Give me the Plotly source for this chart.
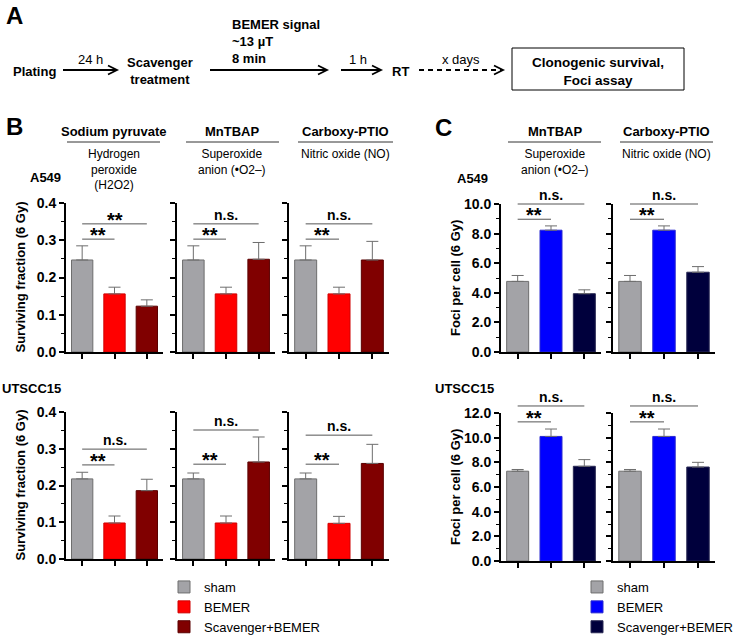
import plotly.graph_objects as go

W, H = 733, 636
FONT = "Liberation Sans, Arial, sans-serif"

groups = ["sham", "BEMER", "Scavenger+BEMER"]
scavengers_b = ["Sodium pyruvate", "MnTBAP", "Carboxy-PTIO"]
targets_b = ["Hydrogen<br>peroxide<br>(H2O2)", "Superoxide<br>anion (•O2–)", "Nitric oxide (NO)"]
scavengers_c = ["MnTBAP", "Carboxy-PTIO"]
targets_c = ["Superoxide<br>anion (•O2–)", "Nitric oxide (NO)"]
cell_lines = ["A549", "UTSCC15"]

# surviving fraction (6 Gy), one row per scavenger: sham, BEMER, scavenger+BEMER
sf_a549 = [[0.247, 0.156, 0.123], [0.247, 0.156, 0.249], [0.247, 0.156, 0.247]]
sf_a549_err = [[0.038, 0.018, 0.017], [0.038, 0.018, 0.045], [0.038, 0.018, 0.050]]
sf_utscc15 = [[0.218, 0.098, 0.186], [0.218, 0.098, 0.264], [0.218, 0.097, 0.260]]
sf_utscc15_err = [[0.018, 0.019, 0.031], [0.016, 0.019, 0.068], [0.016, 0.019, 0.052]]

# foci per cell (6 Gy)
foci_a549 = [[4.77, 8.23, 3.94], [4.77, 8.23, 5.39]]
foci_a549_err = [[0.40, 0.29, 0.26], [0.40, 0.29, 0.38]]
foci_utscc15 = [[7.28, 10.1, 7.68], [7.28, 10.1, 7.62]]
foci_utscc15_err = [[0.14, 0.60, 0.54], [0.14, 0.60, 0.38]]

# significance: (label, height) for sham vs BEMER, sham vs scavenger+BEMER
sig_sf_a549 = [[("**", 0.303), ("**", 0.344)], [("**", 0.303), ("n.s.", 0.344)], [("**", 0.303), ("n.s.", 0.344)]]
sig_sf_utscc15 = [[("**", 0.256), ("n.s.", 0.299)], [("**", 0.258), ("n.s.", 0.351)], [("**", 0.258), ("n.s.", 0.337)]]
sig_foci_a549 = [[("**", 8.97), ("n.s.", 10.0)], [("**", 8.97), ("n.s.", 10.0)]]
sig_foci_utscc15 = [[("**", 11.28), ("n.s.", 12.57)], [("**", 11.28), ("n.s.", 12.57)]]

b_colors = ["#A3A3A7", "#FF0000", "#800000"]
b_edges = ["#6E6E6E", "#D00000", "#5A0000"]
c_colors = ["#A3A3A7", "#0000FF", "#00003C"]
c_edges = ["#6E6E6E", "#2A2AD0", "#2A2A55"]


def fx(px):
    return px / W


def fy(py):
    return 1 - py / H


XR = [-0.5, 2.5]
fig = go.Figure()

# layout of the panels in pixels: (x left, x right), (y top, y bottom)
b_cols = [(66, 163), (177, 275), (289, 389)]
c_cols = [(501, 601), (613, 715)]
b_rows = [(203, 352), (412, 559)]
c_rows = [(204, 352), (413, 561)]

panels = []
for r, (means, errs, sigs) in enumerate([(sf_a549, sf_a549_err, sig_sf_a549),
                                         (sf_utscc15, sf_utscc15_err, sig_sf_utscc15)]):
    for c in range(3):
        panels.append(dict(xd=b_cols[c], yd=b_rows[r], ymax=0.4, dtick=0.1, minor=0.05,
                           means=means[c], errs=errs[c], sigs=sigs[c], colors=b_colors,
                           edges=b_edges, labels=(c == 0), legend="legend",
                           showlegend=(r == 0 and c == 0)))
for r, (means, errs, sigs, ymax) in enumerate([(foci_a549, foci_a549_err, sig_foci_a549, 10),
                                               (foci_utscc15, foci_utscc15_err, sig_foci_utscc15, 12)]):
    for c in range(2):
        panels.append(dict(xd=c_cols[c], yd=c_rows[r], ymax=ymax, dtick=2, minor=1,
                           means=means[c], errs=errs[c], sigs=sigs[c], colors=c_colors,
                           edges=c_edges, labels=(c == 0), legend="legend2",
                           showlegend=(r == 0 and c == 0)))

layout_axes = {}
for k, p in enumerate(panels, start=1):
    xa = "x" if k == 1 else f"x{k}"
    ya = "y" if k == 1 else f"y{k}"
    for i, g in enumerate(groups):
        fig.add_trace(go.Bar(
            x=[i], y=[p["means"][i]], width=0.66, name=g,
            marker=dict(color=p["colors"][i], line=dict(color=p["edges"][i], width=1)),
            error_y=dict(type="data", symmetric=False, array=[p["errs"][i]], arrayminus=[0],
                         color="#6E6E6E", thickness=1, width=6),
            xaxis=xa, yaxis=ya, legend=p["legend"], showlegend=p["showlegend"],
            legendgroup=p["legend"] + g, hoverinfo="y"))
    layout_axes["xaxis" if k == 1 else f"xaxis{k}"] = dict(
        domain=[fx(p["xd"][0]), fx(p["xd"][1])], range=XR, anchor=ya,
        showline=True, linewidth=2, linecolor="black", ticks="outside",
        tickvals=[0, 1, 2], ticklen=5, tickwidth=1.5, tickcolor="black",
        showticklabels=False, showgrid=False, zeroline=False, fixedrange=True)
    layout_axes["yaxis" if k == 1 else f"yaxis{k}"] = dict(
        domain=[fy(p["yd"][1]), fy(p["yd"][0])], range=[0, p["ymax"]], anchor=xa,
        showline=True, linewidth=2, linecolor="black", ticks="outside",
        dtick=p["dtick"], tick0=0, ticklen=5, tickwidth=1.5, tickcolor="black",
        minor=dict(dtick=p["minor"], ticks="outside", ticklen=3, tickwidth=1.2, tickcolor="black"),
        tickformat=".1f", showticklabels=p["labels"],
        tickfont=dict(family=FONT, size=14, color="black", weight="bold"),
        showgrid=False, zeroline=False, fixedrange=True)

    # significance brackets, placed in axis-domain units so they may sit above the axis
    x_sham = (0 - XR[0]) / (XR[1] - XR[0])
    for j, (label, level) in enumerate(p["sigs"], start=1):
        xj = (j - XR[0]) / (XR[1] - XR[0])
        yd = level / p["ymax"]
        fig.add_shape(type="line", xref=f"{xa} domain", yref=f"{ya} domain",
                      x0=x_sham, x1=xj, y0=yd, y1=yd, line=dict(color="#555555", width=1))
        star = label == "**"
        fig.add_annotation(xref=f"{xa} domain", yref=f"{ya} domain", x=(x_sham + xj) / 2, y=yd,
                           text=f"<b>{label}</b>", showarrow=False,
                           xanchor="center", yanchor="bottom",
                           yshift=-9 if star else -1,
                           font=dict(family=FONT, size=20 if star else 14, color="black"))

fig.update_layout(**layout_axes)


def text(x, y, s, size=13, bold=True, **kw):
    kw.setdefault("xanchor", "center")
    kw.setdefault("yanchor", "middle")
    fig.add_annotation(xref="paper", yref="paper", x=fx(x), y=fy(y), showarrow=False,
                       text=f"<b>{s}</b>" if bold else s,
                       font=dict(family=FONT, size=size, color="black"), **kw)


def hline(x0, x1, y, dash="solid", width=1.0, color="black"):
    fig.add_shape(type="line", xref="paper", yref="paper", x0=fx(x0), x1=fx(x1),
                  y0=fy(y), y1=fy(y), line=dict(color=color, width=width, dash=dash))


def arrow(x0, x1, y, dash="solid"):
    hline(x0, x1, y, dash=dash, width=1.8)
    path = f"M {fx(x1 - 9)},{fy(y - 4.5)} L {fx(x1)},{fy(y)} L {fx(x1 - 9)},{fy(y + 4.5)}"
    fig.add_shape(type="path", xref="paper", yref="paper", path=path,
                  line=dict(color="black", width=1.8))


# panel A: workflow
text(14, 16, "A", size=24)
text(34, 71, "Plating")
arrow(63, 117, 70)
text(90, 59, "24 h", bold=False)
text(160, 71, "Scavenger<br>treatment")
arrow(210, 327, 70)
text(230, 41, "BEMER signal<br>~13 µT<br>8 min", xanchor="left", align="left")
arrow(341, 381, 70)
text(358, 59, "1 h", bold=False)
text(400, 71, "RT")
arrow(419, 503, 70, dash="5px,4px")
text(461, 59, "x days", bold=False)
fig.add_shape(type="rect", xref="paper", yref="paper", x0=fx(512), x1=fx(684),
              y0=fy(90), y1=fy(48), line=dict(color="black", width=1))
text(598, 71, "Clonogenic survival,<br>Foci assay", size=13.5)

# panel B / C headers
text(14, 126, "B", size=24)
text(443, 128, "C", size=24)
b_head = [(67, 160), (186, 279), (298, 393)]
c_head = [(508, 601), (620, 713)]
for (x0, x1), name, target in zip(b_head + c_head, scavengers_b + scavengers_c, targets_b + targets_c):
    xc = (x0 + x1) / 2
    text(xc, 132, name)
    hline(x0, x1, 142, color="#333333")
    text(xc, 145, target, size=12, bold=False, yanchor="top")

text(45, 177, cell_lines[0])
text(472, 178, cell_lines[0])
text(31, 388, cell_lines[1])
text(465, 388, cell_lines[1])

for y in [(203 + 352) / 2, (412 + 559) / 2]:
    text(20, y, "Surviving fraction (6 Gy)", textangle=-90)
for y in [(204 + 352) / 2, (413 + 561) / 2]:
    text(455, y, "Foci per cell (6 Gy)", textangle=-90)

legend_style = dict(xanchor="left", yanchor="top", y=fy(572), bgcolor="rgba(0,0,0,0)",
                    font=dict(family=FONT, size=13, color="black"), itemwidth=30,
                    tracegroupgap=0, traceorder="normal")
fig.update_layout(
    width=W, height=H,
    # keep the legends from pushing the plot area around
    margin=dict(l=0, r=0, t=0, b=0, autoexpand=False),
    barmode="overlay",
    paper_bgcolor="white", plot_bgcolor="white",
    font=dict(family=FONT, color="black"),
    legend=dict(x=fx(164), **legend_style),
    legend2=dict(x=fx(577), **legend_style),
)

# drop the default page margin so the figure sits at the window's top-left corner
fig.write_html("out.html", config={"displayModeBar": False},
               post_script="document.body.style.margin = '0px';")
